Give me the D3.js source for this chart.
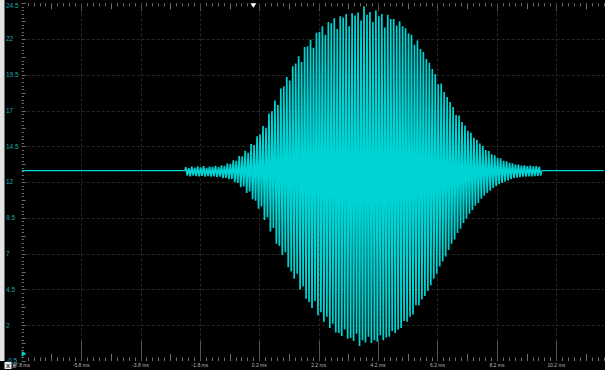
<!DOCTYPE html>
<html>
<head>
<meta charset="utf-8">
<script src="https://cdn.jsdelivr.net/npm/d3@7/dist/d3.min.js"></script>
<style>
  html, body { margin: 0; padding: 0; background: #000; overflow: hidden; }
  svg { display: block; }
  text { font-family: "Liberation Sans", Arial, sans-serif; }
</style>
</head>
<body>
<svg id="scope" width="605" height="370"></svg>
<script>
// Horizontal (time) divisions
const timeTicks = [-7.8, -5.8, -3.8, -1.8, 0.2, 2.2, 4.2, 6.2, 8.2, 10.2];
const timeTickLabels = ["-7.8 ms", "-5.8 ms", "-3.8 ms", "-1.8 ms", "0.2 ms", "2.2 ms", "4.2 ms", "6.2 ms", "8.2 ms", "10.2 ms"];

// Vertical (voltage) divisions
const voltTicks = [-0.5, 2, 4.5, 7, 9.5, 12, 14.5, 17, 19.5, 22, 24.5];
const voltTickLabels = ["-0.5", "2", "4.5", "7", "9.5", "12", "14.5", "17", "19.5", "22", "24.5"];

// Trace: idle level, burst timing and per-cycle peaks / troughs
const baselineLevel = 12.8;
const burstStartMs = -2.3;
const cycleMs = 0.1;
const peakHigh = [
  13.05, 12.98, 13.08, 13.02, 13.10, 13.04, 13.12, 13.00, 13.09, 13.06,
  13.13, 13.05, 13.18, 13.14, 13.30, 13.28, 13.52, 13.50, 13.82, 13.80,
  14.20, 14.05, 14.66, 14.60, 15.20, 15.35, 15.92, 15.80, 16.80, 16.95,
  17.70, 17.40, 18.55, 18.70, 19.35, 19.10, 20.10, 20.30, 20.80, 20.40,
  21.45, 21.50, 21.95, 21.40, 22.45, 22.50, 22.90, 22.30, 23.20, 23.10,
  23.45, 22.70, 23.60, 23.50, 23.75, 22.90, 23.80, 23.65, 23.85, 23.30,
  24.30, 23.70, 23.90, 23.20, 24.00, 23.60, 23.75, 22.80, 23.70, 23.40,
  23.40, 22.95, 23.25, 22.90, 22.75, 22.40, 22.30, 21.60, 21.90, 21.30,
  21.10, 20.60, 20.35, 19.90, 19.55, 18.85, 18.90, 18.30, 17.95, 17.60,
  17.25, 16.70, 16.65, 16.20, 15.95, 15.60, 15.45, 15.10, 14.95, 14.70,
  14.55, 14.25, 14.18, 13.95, 13.88, 13.70, 13.66, 13.50, 13.45, 13.35,
  13.32, 13.22, 13.22, 13.16, 13.18, 13.12, 13.16, 13.10, 13.12, 13.08
];
const peakLow = [
  12.45, 12.40, 12.46, 12.42, 12.40, 12.44, 12.38, 12.43, 12.39, 12.41,
  12.36, 12.38, 12.28, 12.30, 12.20, 12.22, 12.00, 11.95, 11.65, 11.70,
  11.25, 11.35, 10.80, 10.70, 10.15, 10.30, 9.35, 9.55, 8.55, 8.80,
  7.70, 7.55, 6.90, 7.10, 6.05, 5.75, 5.25, 5.60, 4.50, 4.70,
  3.85, 3.60, 3.20, 3.70, 2.70, 2.90, 2.25, 2.60, 1.80, 2.10,
  1.50, 1.45, 1.25, 1.70, 1.05, 1.10, 0.90, 1.40, 0.55, 0.95,
  0.80, 1.20, 0.75, 0.95, 0.85, 1.30, 0.95, 1.15, 1.20, 1.60,
  1.45, 1.70, 1.80, 2.30, 2.25, 2.60, 2.75, 3.40, 3.40, 3.80,
  4.05, 4.40, 4.80, 5.25, 5.60, 6.10, 6.45, 6.80, 7.25, 7.70,
  8.00, 8.45, 8.75, 9.15, 9.45, 9.80, 10.05, 10.35, 10.55, 10.85,
  11.05, 11.25, 11.40, 11.60, 11.72, 11.85, 11.95, 12.04, 12.12, 12.20,
  12.28, 12.32, 12.35, 12.38, 12.39, 12.40, 12.41, 12.42, 12.43, 12.45
];

// Markers
const triggerMs = 0;
const groundLevel = 0;

// ---- layout ----
const W = 605, H = 370;
const plotLeft = 21.7, plotTop = 3.3, plotBottom = 361, plotRight = 604;
const timeDomain = [-7.8, 11.8];

const x = d3.scaleLinear().domain(timeDomain).range([plotLeft, plotLeft + 59.4 * (timeDomain[1] - timeDomain[0]) / 2]);
const y = d3.scaleLinear().domain([-0.5, 24.5]).range([plotBottom, plotTop]);

const traceColor = "#00d3d3";
const svg = d3.select("#scope");

svg.append("rect").attr("width", W).attr("height", H).attr("fill", "#000");
// light side strip
svg.append("rect").attr("x", 0).attr("y", 0).attr("width", 4.5).attr("height", 361).attr("fill", "#e4e4e4");

// clip for the trace area
svg.append("clipPath").attr("id", "plotClip")
  .append("rect").attr("x", plotLeft).attr("y", plotTop)
  .attr("width", plotRight - plotLeft).attr("height", plotBottom - plotTop);

// ---- grid ----
const gridColor = "#262626";
const grid = svg.append("g");
grid.selectAll("line.vgrid").data(timeTicks.slice(1)).join("line")
  .attr("class", "vgrid")
  .attr("x1", d => Math.round(x(d)) + 0.5).attr("x2", d => Math.round(x(d)) + 0.5)
  .attr("y1", plotTop).attr("y2", plotBottom)
  .attr("stroke", gridColor).attr("stroke-width", 1).attr("stroke-dasharray", "3,2");
grid.selectAll("line.hgrid").data(voltTicks.slice(1, -1)).join("line")
  .attr("class", "hgrid")
  .attr("x1", plotLeft).attr("x2", plotRight)
  .attr("y1", d => Math.round(y(d)) + 0.5).attr("y2", d => Math.round(y(d)) + 0.5)
  .attr("stroke", gridColor).attr("stroke-width", 1).attr("stroke-dasharray", "3,2");

// ---- edge ticks (10 minor per division, longer at mid-division) ----
const tickColor = "#6e6e6e";
const tStep = 0.2;
const minorTimes = d3.range(0, Math.round((timeDomain[1] - timeDomain[0]) / tStep) + 1)
  .map(i => ({ t: timeDomain[0] + i * tStep, k: i % 10 }));
const ticksG = svg.append("g").attr("stroke", tickColor).attr("stroke-width", 1);
// top edge
ticksG.selectAll("line.top").data(minorTimes.filter(d => d.k !== 0)).join("line")
  .attr("class", "top")
  .attr("x1", d => Math.round(x(d.t)) + 0.5).attr("x2", d => Math.round(x(d.t)) + 0.5)
  .attr("y1", plotTop).attr("y2", d => plotTop + (d.k === 5 ? 6 : 3));
ticksG.selectAll("line.topMajor").data(timeTicks.slice(1)).join("line")
  .attr("class", "topMajor").attr("stroke", "#4a4a4a")
  .attr("x1", d => Math.round(x(d)) + 0.5).attr("x2", d => Math.round(x(d)) + 0.5)
  .attr("y1", plotTop).attr("y2", plotTop + 8);
// bottom edge
ticksG.selectAll("line.bot").data(minorTimes.filter(d => d.k !== 0)).join("line")
  .attr("class", "bot")
  .attr("x1", d => Math.round(x(d.t)) + 0.5).attr("x2", d => Math.round(x(d.t)) + 0.5)
  .attr("y1", plotBottom).attr("y2", d => plotBottom - (d.k === 5 ? 7 : 3.5));
ticksG.selectAll("line.botMajor").data(timeTicks.slice(1)).join("line")
  .attr("class", "botMajor").attr("stroke", "#555")
  .attr("x1", d => Math.round(x(d)) + 0.5).attr("x2", d => Math.round(x(d)) + 0.5)
  .attr("y1", plotBottom).attr("y2", plotBottom - 20);
// left edge
const vStep = 0.25;
const minorVolts = d3.range(0, 101).map(i => ({ v: -0.5 + i * vStep, k: i % 10 }));
ticksG.selectAll("line.left").data(minorVolts).join("line")
  .attr("class", "left")
  .attr("x1", plotLeft).attr("x2", d => plotLeft + (d.k === 0 ? 4 : d.k === 5 ? 4 : 2.2))
  .attr("y1", d => Math.round(y(d.v)) + 0.5).attr("y2", d => Math.round(y(d.v)) + 0.5);

// ---- trace ----
const burstEndMs = burstStartMs + peakHigh.length * cycleMs;
const burstPoints = [[burstStartMs, baselineLevel]];
peakHigh.forEach((hi, i) => {
  burstPoints.push([burstStartMs + (i + 0.25) * cycleMs, hi]);
  burstPoints.push([burstStartMs + (i + 0.75) * cycleMs, peakLow[i]]);
});
burstPoints.push([burstEndMs, baselineLevel]);
const idleSegments = [
  [[timeDomain[0], baselineLevel], [burstStartMs, baselineLevel]],
  [[burstEndMs, baselineLevel], [timeDomain[1], baselineLevel]]
];

const line = d3.line().x(d => x(d[0])).y(d => y(d[1]));
const traceG = svg.append("g").attr("clip-path", "url(#plotClip)");
traceG.selectAll("path.idle").data(idleSegments).join("path")
  .attr("class", "idle")
  .attr("d", line)
  .attr("fill", "none")
  .attr("stroke", traceColor)
  .attr("stroke-width", 1.2);
traceG.append("path")
  .datum(burstPoints)
  .attr("d", line)
  .attr("fill", "none")
  .attr("stroke", traceColor)
  .attr("stroke-width", 1.7)
  .attr("stroke-linejoin", "miter");

// ---- labels ----
svg.append("g").selectAll("text").data(voltTicks).join("text")
  .attr("x", 6)
  .attr("y", d => Math.max(y(d), 5.5))
  .attr("dy", "0.35em")
  .attr("font-size", 6.5)
  .attr("fill", "#1fa8a8")
  .text((d, i) => voltTickLabels[i]);

svg.append("g").selectAll("text").data(timeTicks).join("text")
  .attr("x", d => Math.max(x(d), 20.5))
  .attr("y", 365.5)
  .attr("dy", "0.35em")
  .attr("text-anchor", "middle")
  .attr("font-size", 5)
  .attr("fill", "#b8b8b8")
  .text((d, i) => timeTickLabels[i]);

// ---- markers ----
const tx = x(triggerMs);
svg.append("path")
  .attr("d", `M${tx - 3},${plotTop}L${tx + 3},${plotTop}L${tx},${plotTop + 4.5}Z`)
  .attr("fill", "#ffffff");
const gy = y(groundLevel);
svg.append("path")
  .attr("d", `M${plotLeft},${gy - 2.8}L${plotLeft + 4.5},${gy}L${plotLeft},${gy + 2.8}Z`)
  .attr("fill", traceColor);

// channel box in the corner
svg.append("rect").attr("x", 4.5).attr("y", 362).attr("width", 7).attr("height", 7).attr("fill", "#e8e8e8");
svg.append("text").attr("x", 8).attr("y", 365.7).attr("dy", "0.35em").attr("text-anchor", "middle")
  .attr("font-size", 6).attr("font-weight", "bold").attr("fill", "#222").text("X");
svg.append("rect").attr("x", 12.5).attr("y", 363).attr("width", 3.5).attr("height", 5).attr("fill", "#555");
svg.append("line").attr("x1", 13.2).attr("x2", 15.3).attr("y1", 365.5).attr("y2", 365.5)
  .attr("stroke", "#ddd").attr("stroke-width", 0.8);
</script>
</body>
</html>
